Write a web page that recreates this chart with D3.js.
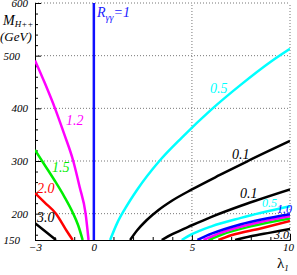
<!DOCTYPE html>
<html>
<head>
<meta charset="utf-8">
<script src="https://cdn.jsdelivr.net/npm/d3@7"></script>
<style>
    body { margin: 0; background: #fff; }
    text { font-family: "Liberation Serif", "DejaVu Serif", serif; font-style: italic; }
    .grid { stroke: #777; stroke-width: 1; stroke-dasharray: 1, 2; fill: none; }
    .axis path, .axis line { stroke: #000; }
</style>
</head>
<body>
<script>
// contouren van R_yy in het (lambda1, M_H++) vlak, afgelezen van het plaatje
// elke lijst: [lambda1, M_H++ (GeV)]
const rOne = [[0, 150], [0, 600]];

// linker tak
const left12 = [[-3, 491], [-2.5, 448], [-1.98, 400], [-1.5, 350], [-1.05, 300], [-0.72, 250], [-0.42, 200], [-0.27, 150]];
const left15 = [[-3, 321], [-2.5, 292], [-2, 263], [-1.5, 232], [-1.05, 200], [-0.8, 178], [-0.57, 150]];
const left20 = [[-3, 239], [-2.5, 221], [-1.93, 200], [-1.38, 167], [-1.08, 150]];
const left30 = [[-3, 182], [-2.5, 167], [-1.93, 150]];

// rechter tak
const right05a = [[0.83, 150], [1.2, 183], [1.6, 210], [2.2, 245], [3.34, 300], [4.5, 345], [6, 398], [7.5, 445], [9, 488], [10, 513]];
const right01a = [[1.85, 150], [2.2, 168], [2.7, 188], [3.3, 207], [4, 225], [5, 246], [6.4, 273], [7.8, 299], [10, 338]];
const right01b = [[3.46, 150], [4, 161], [5, 178], [6, 194], [7.5, 215], [10, 246]];
const right05b = [[4.48, 150], [5, 161], [6, 176], [7.5, 192], [10, 214]];
const right10 = [[5.28, 150], [6, 162], [7.5, 180], [10, 199]];
const right12 = [[5.59, 150], [6.5, 164], [8, 180], [10, 195]];
const right15 = [[5.84, 150], [6.5, 160], [8, 176], [10, 191]];
const right20 = [[6.35, 150], [7, 159], [8.5, 172], [10, 186]];
const right30 = [[7.2, 150], [8, 157], [9, 164], [10, 171]];

// tick labels
const yTicks = [150, 200, 300, 400, 500, 600];
const xTicks = [-3, 0, 5, 10];

const svg = d3.select('body').append('svg')
    .attr('width', 297)
    .attr('height', 275);

const x = d3.scaleLinear().domain([-3, 10]).range([35, 290]);
const y = d3.scaleLinear().domain([150, 600]).range([240, 3]);

// grid (gestippeld), top en rechts zijn ook stippellijnen
svg.append('g').selectAll('line')
    .data([200, 300, 400, 500, 600])
    .enter().append('line')
    .attr('class', 'grid')
    .attr('x1', x(-3)).attr('x2', x(10))
    .attr('y1', d => y(d)).attr('y2', d => y(d));

svg.append('g').selectAll('line')
    .data([0, 5, 10])
    .enter().append('line')
    .attr('class', 'grid')
    .attr('x1', d => x(d)).attr('x2', d => x(d))
    .attr('y1', y(150)).attr('y2', y(600));

// assen, ticks naar binnen
const yMinor = d3.range(160, 600, 20).filter(v => v % 100 != 0);
svg.append('g').attr('class', 'axis')
    .attr('transform', `translate(${x(-3)},0)`)
    .call(d3.axisLeft(y).tickValues(yMinor).tickSize(-3).tickSizeOuter(0).tickFormat(''));

const yAxis = svg.append('g').attr('class', 'axis')
    .attr('transform', `translate(${x(-3)},0)`)
    .call(d3.axisLeft(y).tickValues(yTicks).tickSize(-6).tickSizeOuter(0).tickPadding(7));
yAxis.selectAll('text')
    .style('font-size', '11px')
    .attr('dx', d => (d == 500 || d == 150) ? -8 : 0);

const xMinor = d3.range(-2, 10, 1).filter(v => v != 0 && v != 5);
svg.append('g').attr('class', 'axis')
    .attr('transform', `translate(0,${y(150)})`)
    .call(d3.axisBottom(x).tickValues(xMinor).tickSize(-3).tickSizeOuter(0).tickFormat(''));

const xAxis = svg.append('g').attr('class', 'axis')
    .attr('transform', `translate(0,${y(150)})`)
    .call(d3.axisBottom(x).tickValues(xTicks).tickSize(-6).tickSizeOuter(0).tickPadding(3));
xAxis.selectAll('text')
    .style('font-size', '11px')
    .attr('dx', d => d == 10 ? -2 : 0);

svg.selectAll('.axis text').style('font-family', '"Liberation Serif", serif').style('font-style', 'italic');

// curves
svg.append('clipPath').attr('id', 'plot')
    .append('rect')
    .attr('x', x(-3)).attr('y', y(600))
    .attr('width', x(10) - x(-3)).attr('height', y(150) - y(600));

const line = d3.line()
    .x(d => x(d[0]))
    .y(d => y(d[1]))
    .curve(d3.curveMonotoneX);

const curves = [
    { pts: right05a, color: '#00ffff' },
    { pts: right01a, color: '#000000' },
    { pts: right01b, color: '#000000' },
    { pts: right30, color: '#000000' },
    { pts: right20, color: '#ff0000' },
    { pts: right15, color: '#00ee00' },
    { pts: right12, color: '#ff00ff' },
    { pts: right10, color: '#0000ff' },
    { pts: right05b, color: '#00ffff' },
    { pts: left30, color: '#000000' },
    { pts: left20, color: '#ff0000' },
    { pts: left15, color: '#00ee00' },
    { pts: left12, color: '#ff00ff' }
];

const g = svg.append('g').attr('clip-path', 'url(#plot)');
g.selectAll('path.c')
    .data(curves)
    .enter().append('path')
    .attr('class', 'c')
    .attr('d', d => line(d.pts))
    .attr('fill', 'none')
    .attr('stroke', d => d.color)
    .attr('stroke-width', 2.5);

g.append('path')
    .attr('d', d3.line().x(d => x(d[0])).y(d => y(d[1]))(rOne))
    .attr('stroke', '#1010ff')
    .attr('stroke-width', 2.5)
    .attr('fill', 'none');

// labels bij de curves
const labels = [
    { t: '1.2', c: '#ff00ff', at: [-1.42, 368], s: 14 },
    { t: '1.5', c: '#00ee00', at: [-2.13, 279], s: 14 },
    { t: '2.0', c: '#ff0000', at: [-2.9, 239], s: 14 },
    { t: '3.0', c: '#000000', at: [-2.9, 184], s: 14 },
    { t: '0.5', c: '#00ffff', at: [5.92, 429], s: 14 },
    { t: '0.1', c: '#000000', at: [7.04, 304], s: 14 },
    { t: '0.1', c: '#000000', at: [7.45, 230], s: 14 },
    { t: '0.5', c: '#00ffff', at: [8.57, 213], s: 12 },
    { t: '1.0', c: '#0000ff', at: [9.34, 201], s: 12 },
    { t: '3.0', c: '#000000', at: [9.18, 152], s: 12 }
];

svg.selectAll('text.lab')
    .data(labels)
    .enter().append('text')
    .attr('class', 'lab')
    .attr('x', d => x(d.at[0]))
    .attr('y', d => y(d.at[1]))
    .attr('fill', d => d.c)
    .style('font-size', d => d.s + 'px')
    .text(d => d.t);

const rLab = svg.append('text')
    .attr('x', x(0.16)).attr('y', y(573))
    .attr('fill', '#2020ff')
    .style('font-size', '14px');
rLab.append('tspan').text('R');
rLab.append('tspan').attr('dy', 4).style('font-size', '10px').text('γγ');
rLab.append('tspan').attr('dy', -4).text('=1');

// as titels
const mLab = svg.append('text').attr('x', 3).attr('y', 25).style('font-size', '14px');
mLab.append('tspan').text('M');
mLab.append('tspan').attr('dy', 2).style('font-size', '9px').text('H++');

svg.append('text').attr('x', 0).attr('y', 41).style('font-size', '13px').text('(GeV)');

const lLab = svg.append('text').attr('x', 277).attr('y', 268).style('font-size', '15px').style('font-style', 'normal');
lLab.append('tspan').text('λ');
lLab.append('tspan').attr('dy', 3).style('font-size', '9px').style('font-style', 'italic').text('1');
</script>
</body>
</html>
